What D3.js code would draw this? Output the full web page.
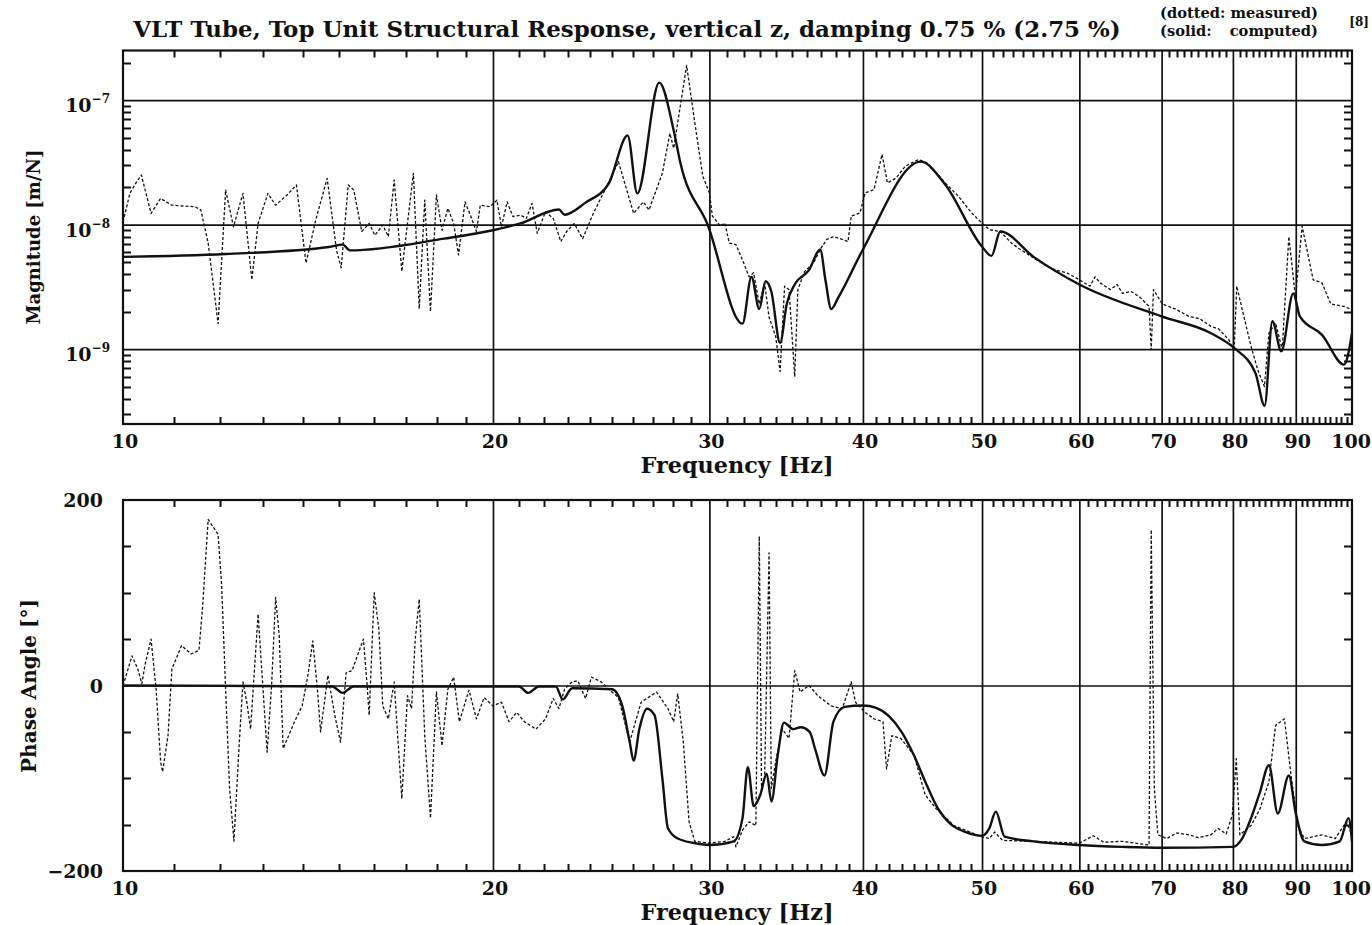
<!DOCTYPE html>
<html>
<head>
<meta charset="utf-8">
<script src="https://cdnjs.cloudflare.com/ajax/libs/d3/7.8.5/d3.min.js"></script>
<style>
  body { margin: 0; background: #fff; }
</style>
</head>
<body>
<script>
// Axis ticks
var xTicks = [10, 20, 30, 40, 50, 60, 70, 80, 90, 100];
var xGrid = [20, 30, 40, 50, 60, 70, 80, 90];
var xMinor = d3.range(11, 100).filter(function(d) { return d % 10 !== 0; });
var magGrid = [1e-9, 1e-8, 1e-7];
var magMinor = [3e-10, 4e-10, 5e-10, 6e-10, 7e-10, 8e-10, 9e-10,
    2e-9, 3e-9, 4e-9, 5e-9, 6e-9, 7e-9, 8e-9, 9e-9,
    2e-8, 3e-8, 4e-8, 5e-8, 6e-8, 7e-8, 8e-8, 9e-8, 2e-7];
var phaseTicks = [200, 0, -200];
var phaseMinor = [-150, -100, -50, 50, 100, 150];

// Magnitude, measured (dotted)
var magMeasFreq = [10.00, 10.13, 10.24, 10.35, 10.54, 10.73, 10.96, 11.44, 11.57, 11.73, 11.95, 12.12, 12.30, 12.52, 12.73,
    12.88, 13.12, 13.31, 13.60, 13.84, 14.09, 14.35, 14.66, 14.92, 15.05, 15.25, 15.41, 15.64, 15.86, 16.03, 16.27, 16.44,
    16.62, 16.86, 17.23, 17.42, 17.60, 17.79, 17.99, 18.18, 18.38, 18.58, 18.75, 18.98, 19.19, 19.39, 19.53, 19.89, 20.15,
    20.32, 20.54, 20.76, 21.06, 21.29, 21.52, 21.73, 22.07, 22.39, 22.71, 22.96, 23.29, 23.66, 24.14, 24.85, 25.30, 26.03,
    26.51, 26.79, 27.47, 27.86, 28.06, 28.75, 29.14, 29.63, 30.00, 30.17, 30.63, 30.88, 31.14, 31.53, 31.92, 32.32, 32.59,
    32.94, 33.27, 33.55, 33.97, 34.25, 34.54, 34.83, 35.20, 35.41, 35.86, 36.46, 36.92, 37.38, 37.85, 38.48, 38.90, 39.13,
    39.78, 40.17, 40.84, 41.46, 41.88, 42.58, 43.30, 44.39, 45.13, 46.66, 47.83, 49.03, 49.97, 50.68, 51.74, 52.83, 53.6,
    55.07, 56.3, 57.41, 58.6, 60.00, 61.2, 61.8, 62.39, 63.6, 64.4, 65.04, 66.1, 67.24, 68.37, 68.65, 68.94, 70.09, 71.8,
    73.67, 75.2, 76.79, 77.9, 79.38, 80.18, 80.58, 81.39, 82.77, 83.81, 84.87, 85.58, 86.66, 87.74, 88.84, 89.95, 91.08,
    92.98, 94.53, 96.11, 98.53, 100.0];
var magMeas = [1.05e-8, 1.78e-8, 2.14e-8, 2.50e-8, 1.23e-8, 1.62e-8, 1.43e-8, 1.39e-8, 1.31e-8, 7.1e-9, 1.6e-9, 1.89e-8, 9.6e-9, 1.78e-8, 3.6e-9,
    1.02e-8, 1.78e-8, 1.43e-8, 1.73e-8, 2.08e-8, 4.9e-9, 1.09e-8, 2.35e-8, 6.2e-9, 4.5e-9, 2.08e-8, 1.89e-8, 8.8e-9, 1.02e-8, 8.2e-9, 9.9e-9, 8.0e-9,
    2.28e-8, 4.2e-9, 2.58e-8, 2.1e-9, 1.57e-8, 2.0e-9, 1.73e-8, 9.0e-9, 1.35e-8, 1.02e-8, 5.7e-9, 1.52e-8, 1.16e-8, 8.8e-9, 1.43e-8, 1.39e-8, 1.57e-8,
    9.6e-9, 1.52e-8, 1.16e-8, 1.19e-8, 1.12e-8, 1.48e-8, 8.5e-9, 1.27e-8, 1.12e-8, 7.3e-9, 8.8e-9, 1.02e-8, 7.7e-9, 1.23e-8, 2.21e-8, 3.2e-8, 1.23e-8,
    1.52e-8, 1.31e-8, 2.58e-8, 5.4e-8, 4.1e-8, 1.9e-7, 7.4e-8, 2.45e-8, 1.8e-8, 1.17e-8, 9.7e-9, 1.03e-8, 7.1e-9, 6.9e-9, 5.2e-9, 3.8e-9, 4.1e-9,
    2.3e-9, 3.4e-9, 1.8e-9, 1.26e-9, 6.6e-10, 3.2e-9, 3.0e-9, 6.0e-10, 3.0e-9, 4.2e-9, 4.9e-9, 6.3e-9, 7.6e-9, 8.0e-9, 7.6e-9, 7.3e-9, 1.17e-8,
    1.24e-8, 1.8e-8, 1.91e-8, 3.66e-8, 2.16e-8, 2.37e-8, 2.94e-8, 3.33e-8, 3.13e-8, 2.16e-8, 1.69e-8, 1.24e-8, 1.03e-8, 9.1e-9, 8.8e-9, 7.1e-9, 6.4e-9,
    5.4e-9, 4.7e-9, 4.3e-9, 4.1e-9, 3.6e-9, 3.2e-9, 3.8e-9, 3.4e-9, 3.0e-9, 3.3e-9, 2.8e-9, 2.9e-9, 2.6e-9, 2.2e-9, 9.9e-10, 3.0e-9, 2.3e-9, 2.1e-9,
    1.83e-9, 1.75e-9, 1.52e-9, 1.45e-9, 1.19e-9, 9.6e-10, 3.2e-9, 2.1e-9, 1.05e-9, 6.8e-10, 5.0e-10, 1.34e-9, 1.62e-9, 9.9e-10, 8.0e-9, 2.6e-9, 9.7e-9,
    3.6e-9, 3.4e-9, 2.3e-9, 2.2e-9, 2.07e-9];

// Magnitude, computed (solid)
var magCompFreq = [10.0, 12.12, 14.71, 15.09, 15.30, 18.25, 20.0, 21.06, 22.63, 22.87, 23.79, 24.85, 25.74, 26.21, 27.31,
    28.06, 28.4, 29.9, 31.92, 32.46, 32.94, 33.33, 33.69, 34.25, 34.68, 35.2, 36.15, 36.92, 37.3, 37.69, 38.2, 40.0,
    44.57, 46.66, 49.97, 50.89, 51.74, 55.07, 60.0, 70.0, 76.79, 80.18, 83.46, 84.9, 86.14, 87.59, 89.58, 90.7, 94.53, 98.53, 100.0];
var magComp = [5.5e-9, 5.8e-9, 6.6e-9, 6.9e-9, 6.2e-9, 7.7e-9, 9.0e-9, 1.02e-8, 1.32e-8, 1.2e-8, 1.5e-8, 2.14e-8, 5.2e-8, 1.78e-8, 1.38e-7,
    5.7e-8, 3.2e-8, 1.0e-8, 1.6e-9, 3.8e-9, 2.1e-9, 3.5e-9, 2.9e-9, 1.12e-9, 2.3e-9, 3.3e-9, 4.3e-9, 6.3e-9, 3.5e-9, 2.1e-9, 2.6e-9, 6.3e-9,
    3.2e-8, 2.1e-8, 6.7e-9, 5.6e-9, 8.8e-9, 5.5e-9, 3.3e-9, 1.83e-9, 1.34e-9, 1.02e-9, 6.4e-10, 3.5e-10, 1.67e-9, 9.6e-10, 2.8e-9, 1.83e-9, 1.3e-9, 7.5e-10, 1.34e-9];

// Phase, measured (dotted)
var phMeasFreq = [10.00, 10.06, 10.17, 10.28, 10.36, 10.42, 10.54, 10.64, 10.73, 10.77, 10.88, 10.96, 11.16, 11.36, 11.53, 11.61,
    11.73, 11.95, 12.03, 12.12, 12.21, 12.31, 12.43, 12.52, 12.61, 12.70, 12.88, 13.00, 13.10, 13.21, 13.31, 13.40, 13.50, 13.79,
    13.99, 14.14, 14.27, 14.40, 14.48, 14.68, 14.87, 15.03, 15.19, 15.36, 15.58, 15.69, 15.80, 15.86, 16.01, 16.15, 16.27, 16.44,
    16.62, 16.86, 17.04, 17.17, 17.29, 17.42, 17.60, 17.79, 17.99, 18.18, 18.38, 18.58, 18.78, 19.12, 19.39, 19.67, 20.00, 20.32,
    20.61, 20.91, 21.21, 21.68, 22.07, 22.39, 22.63, 22.87, 23.20, 23.45, 23.79, 24.05, 24.49, 24.85, 25.30, 25.56, 25.84, 26.12,
    26.40, 27.17, 27.76, 28.06, 28.27, 28.57, 28.88, 29.19, 30.00, 30.88, 31.40, 31.53, 31.92, 32.32, 32.73, 32.94, 33.08, 33.27,
    33.55, 33.69, 33.97, 34.39, 34.83, 35.20, 35.56, 36.15, 36.76, 37.69, 38.48, 39.13, 39.45, 40.17, 40.84, 41.53, 41.81, 42.23,
    42.94, 44.02, 44.95, 45.89, 47.43, 49.97, 50.68, 51.2, 51.96, 55.07, 60.00, 61.6, 62.8, 65.04, 68.37, 68.65, 69.05, 69.51,
    70.68, 72.0, 73.67, 75.0, 76.79, 77.8, 79.0, 79.91, 80.51, 81.05, 82.77, 84.16, 85.58, 86.66, 88.11, 89.21, 90.33, 91.46,
    94.53, 96.91, 98.94, 100.0];
var phMeas = [0, 11, 32, 18, 2, 22, 50, -4, -82, -93, -54, 18, 43, 34, 38, 86,
    179, 163, 108, -4, -111, -168, -65, 4, -18, -47, 77, -4, -72, 0, 95, 54, -68, -39,
    -22, 11, 48, -7, -50, 11, -32, -61, 14, 16, 39, 50, 0, -32, 100, 61, -22, -36,
    4, -122, -11, -25, 50, 93, -54, -143, -7, -65, -4, 9, -39, -5, -36, -13, -22, -18,
    -39, -29, -39, -47, -36, -14, -25, -4, 4, 5, -14, 9, 4, -4, -13, -36, -61, -39,
    -18, -7, -25, -39, -9, -61, -147, -168, -170, -168, -163, -174, -156, -147, -151, 161, -111, -100,
    143, -111, -82, -47, -57, 16, -7, 0, -11, -22, -25, 4, -18, -29, -36, -39, -90, -54,
    -57, -75, -118, -133, -151, -163, -165, -158, -167, -168, -170, -162, -169, -168, -172, 168, -111, -161,
    -165, -159, -161, -164, -161, -154, -160, -140, -79, -161, -151, -133, -104, -43, -36, -97, -151, -165,
    -161, -165, -147, -161];

// Phase, computed (solid)
var phCompFreq = [10, 14.8, 15.09, 15.4, 21.0, 21.36, 21.8, 22.5, 22.79, 23.2, 25.0, 25.47, 25.84, 26.03, 26.31, 26.69, 27.07,
    27.47, 27.76, 28.27, 29.5, 30.0, 31.4, 31.92, 32.24, 32.6, 33.0, 33.4, 33.7, 34.1, 34.5, 35.1, 35.6, 36.2, 36.6, 37.22,
    37.85, 38.65, 40.0, 41.0, 42.0, 43.0, 44.0, 45.0, 46.0, 47.2, 48.5, 50.0, 50.68, 51.31, 52.17, 55.07, 60.0, 65.0, 70.0,
    80.0, 81.39, 82.77, 84.16, 85.58, 87.02, 88.84, 89.95, 91.46, 94.53, 97.72, 99.35, 100];
var phComp = [0, -1, -8, -1, -1, -8, -1, -1, -15, -3, -4, -21, -61, -81, -47, -25, -32,
    -100, -154, -165, -171, -172, -168, -143, -88, -130, -118, -95, -125, -75, -40, -47, -45, -50, -70, -97,
    -39, -23, -21.5, -24, -33, -50, -75, -105, -132, -150, -158, -162, -154, -136, -163, -168, -172, -174, -175,
    -174, -165, -143, -115, -86, -138, -97, -136, -168, -172, -168, -143, -168];

// General settings
var W = 1372, H = 925,
plot = {left: 123, right: 1352},
magBox = {top: 50.5, bottom: 424},
phBox = {top: 500, bottom: 871},
font = {family: "'DejaVu Serif', serif", tick: 19, label: 18, legend: 14},
ink = "#111";

var svg = d3.select("body")
    .append("svg")
        .attr("width", W)
        .attr("height", H)
        .style("display", "block")
        .attr("font-family", font.family)
        .attr("font-weight", "bold")
        .attr("fill", ink);

var x = d3.scaleLog().domain([10, 100]).range([plot.left, plot.right]);
var yMag = d3.scaleLog().domain([2.5e-10, 2.5e-7]).range([magBox.bottom, magBox.top]);
var yPh = d3.scaleLinear().domain([-200, 200]).range([phBox.bottom, phBox.top]);

// stretch a text to the width it has in the picture
function fit(sel, width) {
    var fs = parseFloat(sel.attr("font-size"));
    sel.attr("font-size", fs * width / sel.node().getComputedTextLength());
    return sel;
}

function panel(id, y, box, yGrid, yMinor) {
    var w = plot.right - plot.left, h = box.bottom - box.top;
    var g = svg.append("g").attr("id", id);
    // grid
    g.append("g")
        .attr("transform", "translate(0," + box.bottom + ")")
        .call(d3.axisBottom(x).tickValues(xGrid).tickSize(-h).tickFormat(""));
    g.append("g")
        .attr("transform", "translate(" + plot.left + ",0)")
        .call(d3.axisLeft(y).tickValues(yGrid).tickSize(-w).tickFormat(""));
    g.selectAll(".domain").remove();
    g.selectAll(".tick line").attr("stroke", ink).attr("stroke-width", 1.7);
    // minor ticks, inward on all four sides
    var ticks = g.append("g")
        .attr("stroke", ink)
        .attr("stroke-width", 2);
    [box.top, box.bottom].forEach(function(edge) {
        var dir = edge === box.top ? 1 : -1;
        ticks.selectAll(null)
            .data(xMinor)
            .enter()
            .append("line")
                .attr("x1", function(d) { return Math.round(x(d)) + 0.5; })
                .attr("x2", function(d) { return Math.round(x(d)) + 0.5; })
                .attr("y1", edge)
                .attr("y2", edge + dir * 7);
    });
    [plot.left, plot.right].forEach(function(edge) {
        var dir = edge === plot.left ? 1 : -1;
        ticks.selectAll(null)
            .data(yMinor)
            .enter()
            .append("line")
                .attr("x1", edge)
                .attr("x2", edge + dir * 8)
                .attr("y1", function(d) { return Math.round(y(d)) + 0.5; })
                .attr("y2", function(d) { return Math.round(y(d)) + 0.5; });
    });
    // frame
    g.append("rect")
        .attr("x", plot.left)
        .attr("y", box.top)
        .attr("width", w)
        .attr("height", h)
        .attr("fill", "none")
        .attr("stroke", ink)
        .attr("stroke-width", 2.2);
    // clip for curves
    svg.append("defs").append("clipPath")
        .attr("id", "clip-" + id)
        .append("rect")
        .attr("x", plot.left)
        .attr("y", box.top)
        .attr("width", w)
        .attr("height", h);
    // frequency labels
    g.selectAll(".xlab")
        .data(xTicks)
        .enter()
        .append("text")
            .attr("class", "xlab")
            .attr("x", function(d) { return d === 100 ? W - 1 : x(d) + 2; })
            .attr("y", box.bottom + 24)
            .attr("text-anchor", function(d) { return d === 100 ? "end" : "middle"; })
            .attr("font-size", font.tick)
            .text(function(d) { return d; });
    fit(g.append("text")
        .attr("x", 737)
        .attr("y", box.bottom + 49)
        .attr("text-anchor", "middle")
        .attr("font-size", font.label)
        .text("Frequency [Hz]"), 193);
    return g;
}

function curve(g, id, y, freq, vals, dotted) {
    var line = d3.line()
        .x(function(d) { return x(d[0]); })
        .y(function(d) { return y(d[1]); })
        .curve(dotted ? d3.curveLinear : d3.curveMonotoneX);
    g.append("path")
        .datum(d3.zip(freq, vals))
        .attr("clip-path", "url(#clip-" + id + ")")
        .attr("d", line)
        .attr("fill", "none")
        .attr("stroke", ink)
        .attr("stroke-width", dotted ? 1.3 : 2.4)
        .attr("stroke-dasharray", dotted ? "3,2" : null)
        .attr("stroke-linejoin", "round");
}

// Magnitude panel
var gMag = panel("mag", yMag, magBox, magGrid, magMinor);
curve(gMag, "mag", yMag, magMeasFreq, magMeas, true);
curve(gMag, "mag", yMag, magCompFreq, magComp, false);

var magLab = gMag.selectAll(".ylab")
    .data(magGrid)
    .enter()
    .append("text")
        .attr("class", "ylab")
        .attr("x", 110)
        .attr("y", function(d) { return yMag(d) + 12; })
        .attr("text-anchor", "end")
        .attr("font-size", font.tick);
magLab.append("tspan").text("10");
magLab.append("tspan")
    .attr("dy", -9)
    .attr("font-size", 12)
    .text(function(d) { return "\u2212" + Math.round(-Math.log10(d)); });

fit(gMag.append("text")
    .attr("transform", "translate(40," + 237 + ") rotate(-90)")
    .attr("text-anchor", "middle")
    .attr("font-size", font.label)
    .text("Magnitude [m/N]"), 175);

// Phase panel
var gPh = panel("ph", yPh, phBox, [0], phaseMinor);
curve(gPh, "ph", yPh, phMeasFreq, phMeas, true);
curve(gPh, "ph", yPh, phCompFreq, phComp, false);

gPh.selectAll(".ylab")
    .data(phaseTicks)
    .enter()
    .append("text")
        .attr("class", "ylab")
        .attr("x", 103)
        .attr("y", function(d) { return yPh(d) + 7; })
        .attr("text-anchor", "end")
        .attr("font-size", font.tick)
        .text(function(d) { return d < 0 ? "\u2212" + (-d) : d; });

fit(gPh.append("text")
    .attr("transform", "translate(36," + 686 + ") rotate(-90)")
    .attr("text-anchor", "middle")
    .attr("font-size", font.label)
    .text("Phase Angle [\u00b0]"), 174);

// Title and legend
fit(svg.append("text")
    .attr("x", 627)
    .attr("y", 37)
    .attr("text-anchor", "middle")
    .attr("font-size", 18)
    .text("VLT Tube, Top Unit Structural Response, vertical z, damping 0.75 % (2.75 %)"), 988);

var leg1 = fit(svg.append("text")
    .attr("x", 1160)
    .attr("y", 18)
    .attr("font-size", font.legend)
    .text("(dotted: measured)"), 158);
var legSize = leg1.attr("font-size");
svg.append("text")
    .attr("x", 1160)
    .attr("y", 36)
    .attr("font-size", legSize)
    .text("(solid:");
svg.append("text")
    .attr("x", 1318)
    .attr("y", 36)
    .attr("text-anchor", "end")
    .attr("font-size", legSize)
    .text("computed)");
svg.append("text")
    .attr("x", 1369)
    .attr("y", 26)
    .attr("text-anchor", "end")
    .attr("font-size", 12)
    .text("[8]");
</script>
</body>
</html>
